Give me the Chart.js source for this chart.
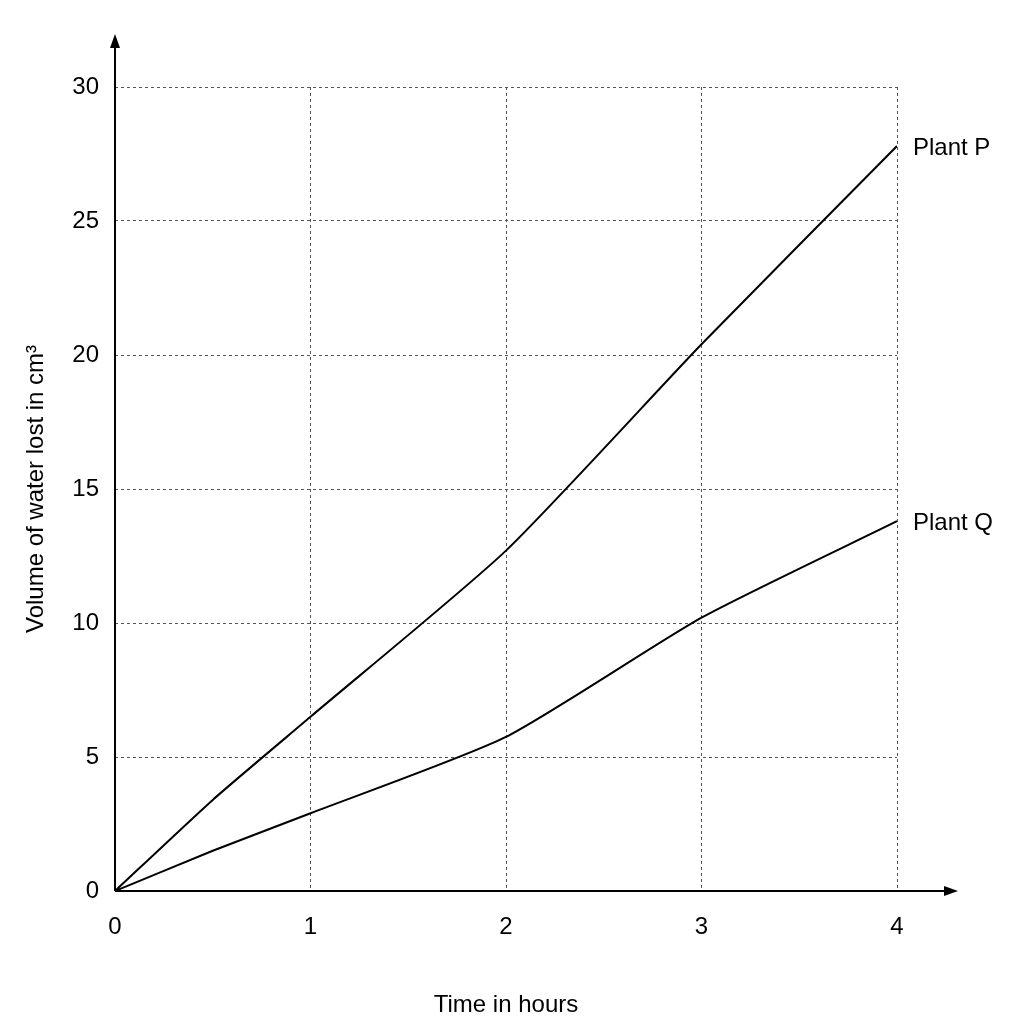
<!DOCTYPE html>
<html><head><meta charset="utf-8">
<script src="https://cdn.jsdelivr.net/npm/chart.js@4"></script>
<style>html,body{margin:0;background:#fff}#wrap{width:1024px;height:1024px}</style>
</head><body><div id="wrap"><canvas id="c"></canvas></div>
<script>
const timeHours = [0, 0.5, 1, 2, 3, 4];
const plantP = [0, 3.4, 6.5, 12.7, 20.4, 27.8];
const plantQ = [0, 1.5, 2.9, 5.75, 10.2, 13.8];
const seriesNames = ['Plant P', 'Plant Q'];
const F = "'Liberation Sans Narrow', 'Liberation Sans', Arial, sans-serif";
const toPts = ys => timeHours.map((x,i)=>({x, y: ys[i]}));
const extras = {
  id:'extras',
  afterDatasetsDraw(ch){
    const c=ch.ctx, xs=ch.scales.x, ys=ch.scales.y;
    const x0=xs.getPixelForValue(0), y0=ys.getPixelForValue(0);
    c.save(); c.strokeStyle='#000'; c.fillStyle='#000'; c.lineWidth=2;
    c.beginPath(); c.moveTo(x0,y0); c.lineTo(950,y0); c.moveTo(x0,y0); c.lineTo(x0,42); c.stroke();
    c.beginPath(); c.moveTo(958,y0); c.lineTo(944,y0-5); c.lineTo(944,y0+5); c.fill();
    c.beginPath(); c.moveTo(x0,34); c.lineTo(x0-5,48); c.lineTo(x0+5,48); c.fill();
    c.font='24px '+F; c.textBaseline='middle'; c.textAlign='left';
    ch.data.datasets.forEach(d=>{const p=d.data[d.data.length-1];
      c.fillText(d.label, xs.getPixelForValue(p.x)+16, ys.getPixelForValue(p.y)+2);});
    c.restore();
  }
};
new Chart(document.getElementById('c'),{
  type:'scatter',
  data:{datasets:[
    {label:seriesNames[0],data:toPts(plantP),showLine:true,borderColor:'#000',borderWidth:2,pointRadius:0,tension:0.2},
    {label:seriesNames[1],data:toPts(plantQ),showLine:true,borderColor:'#000',borderWidth:2,pointRadius:0,tension:0.2}
  ]},
  options:{responsive:true,maintainAspectRatio:false,animation:false,
    layout:{padding:{top:87,right:127,left:18,bottom:0}},
    plugins:{legend:{display:false},tooltip:{enabled:false}},
    scales:{
      x:{type:'linear',min:0,max:4,afterFit:s=>{s.height=133;},
        border:{display:false,dash:[3,3]},
        grid:{color:c=>c.tick.value===0?'rgba(0,0,0,0)':'#555',lineWidth:1,drawTicks:false},
        ticks:{stepSize:1,color:'#000',font:{size:24,family:F},padding:22},
        title:{display:true,text:'Time in hours',color:'#000',font:{size:24,family:F},padding:{top:0}}},
      y:{min:0,max:30,afterFit:s=>{s.width=97;},
        border:{display:false,dash:[3,3]},
        grid:{color:c=>c.tick.value===0?'rgba(0,0,0,0)':'#555',lineWidth:1,drawTicks:false},
        ticks:{stepSize:5,color:'#000',font:{size:24,family:F},padding:16},
        title:{display:true,text:'Volume of water lost in cm³',color:'#000',font:{size:24,family:F},padding:{bottom:0}}}
    }},
  plugins:[extras]
});
</script></body></html>
